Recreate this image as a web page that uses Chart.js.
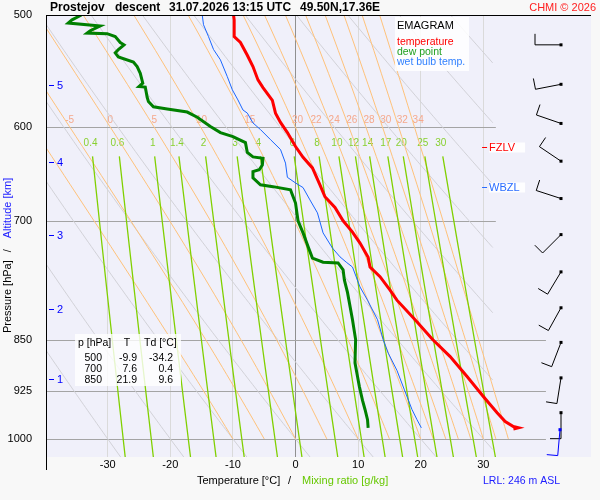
<!DOCTYPE html>
<html>
<head>
<meta charset="utf-8">
<script src="https://cdn.jsdelivr.net/npm/chart.js@4.4.1/dist/chart.umd.min.js"></script>
<style>
  html, body { margin:0; padding:0; background:#f8f8f8; }
  #wrap { position:relative; width:600px; height:500px; }
</style>
</head>
<body>
<div id="wrap"><canvas id="emagram" width="600" height="500"></canvas></div>
<script>
// ===== sounding: pressure [hPa] / temperature [°C]
const tempP = [500, 504, 518, 523, 534, 544, 556, 563, 575, 587, 596, 606, 620, 631, 642, 660, 673, 685, 700, 713, 726, 743, 755, 767, 784, 797, 823, 850, 874, 903, 933, 958, 972, 980, 982, 984];
const tempT = [-9.9, -9.8, -9.8, -8.8, -7.7, -6.8, -6.0, -5.2, -3.7, -3.2, -2.4, -1.3, 0.0, 1.2, 2.7, 3.9, 4.7, 6.3, 7.6, 9.1, 10.3, 11.6, 11.9, 13.5, 15.1, 16.2, 19.1, 21.9, 24.7, 27.4, 30.0, 32.2, 33.5, 34.8, 35.6, 34.8];

const dewP = [500, 504, 506.6, 509, 513, 515, 515.5, 518, 523, 525, 529, 532, 535.5, 540, 544, 550, 559, 562, 562.5, 572, 576, 581, 583, 586, 591, 600, 606, 610, 616, 626, 630.6, 632, 639, 644, 646, 652.5, 660, 662, 665.5, 680, 700, 714, 730, 744, 749, 750, 758.5, 771, 787, 823, 850, 883, 903, 918, 939, 953, 969, 982];
const dewT = [-34.2, -35.7, -36.3, -31.2, -32.8, -33.3, -30.1, -28.8, -28.0, -27.4, -28.3, -28.8, -28.3, -25.9, -25.3, -24.8, -24.4, -25.0, -24.0, -23.7, -23.5, -22.7, -20.5, -17.3, -15.7, -13.6, -12.0, -10.0, -8.0, -7.7, -6.8, -5.2, -5.3, -5.8, -6.8, -6.8, -5.6, -3.6, -0.8, 0.0, 0.4, 1.2, 2.0, 2.7, 4.4, 6.8, 7.6, 7.8, 8.3, 9.1, 9.6, 9.5, 9.9, 10.2, 10.7, 11.1, 11.5, 11.6];

const wetP = [500, 508, 518, 529, 538, 553, 565, 574.5, 584, 587, 596.5, 603, 613, 623, 637, 652, 658, 663, 676.5, 691, 714, 732, 742.5, 749, 755, 780, 797, 823, 850, 869, 894, 923, 953, 969, 982];
const wetT = [-14.9, -14.7, -13.9, -13.1, -12.0, -10.9, -10.1, -9.2, -8.4, -7.7, -6.8, -5.6, -4.0, -2.4, -1.6, -1.3, 0.0, 1.2, 2.3, 3.5, 4.4, 5.9, 7.1, 8.1, 9.1, 10.3, 11.5, 13.1, 14.0, 14.8, 16.2, 17.4, 18.6, 19.4, 20.1];

// table in the lower left
const tableP = [500, 700, 850];
const tableT = [-9.9, 7.6, 21.9];
const tableTd = [-34.2, 0.4, 9.6];

// axes
const xTicks = [-30, -20, -10, 0, 10, 20, 30];
const yTicks = [500, 600, 700, 850, 925, 1000];
const altKm = [1, 2, 3, 4, 5];
const altP = [907, 808, 717, 636, 561];
const fzlvP = 620.5;
const wbzlP = 662;

// diagram line labels
const dryTheta = [-30, -20, -10, 0, 10, 20, 30, 40, 50, 60, 70, 80, 90, 100];
const satThetaW = [-10, -5, 0, 5, 10, 15, 20, 22, 24, 26, 28, 30, 32, 34];
const mixW = [0.4, 0.6, 1, 1.4, 2, 3, 4, 6, 8, 10, 12, 14, 17, 20, 25, 30];

// wind barbs: pressure, direction [deg], speed [kt]
const barbP = [525, 560, 597, 635, 675, 716, 761, 807, 854, 905, 958];
const barbDir = [270, 259, 289, 304, 288, 225, 211, 209, 201, 189, 180];
const barbKt = [10, 10, 10, 10, 10, 10, 10, 10, 10, 10, 10];
const sfcBarb = { p: 985, dir: 185, kt: 10 };

const FONT = "'Liberation Sans', Arial, sans-serif";
const DRY_TMAX = 31.5;

// ===== emagram reference lines, built from the labelled values
const KAPPA = 0.2857;
function dryAdiabat(th){
  const pts = [];
  for (let p = 500; p <= 1030; p += 5){
    const t = (th + 273.15) * Math.pow(p / 1000, KAPPA) - 273.15;
    if (t > DRY_TMAX){
      if (pts.length) pts.push({ x: DRY_TMAX, y: 1000 * Math.pow((DRY_TMAX + 273.15) / (th + 273.15), 1 / KAPPA) });
      break;
    }
    pts.push({ x: t, y: p });
  }
  return pts;
}
function satAdiabat(tw){
  const pts = [];
  let T = tw + 273.15;
  for (let p = 1000; p >= 500; p -= 2){
    if (p % 10 === 0) pts.push({ x: T - 273.15, y: p });
    const tc = T - 273.15;
    const e = 6.112 * Math.exp(17.67 * tc / (tc + 243.5));
    const rs = 0.622 * e / (p - e);
    const L = 2.501e6;
    const dTdp = (287 * T + L * rs) / (p * (1005 + L * L * rs * 0.622 / (287 * T * T)));
    T -= 2 * dTdp;
  }
  return pts;
}
function mixLine(w){
  const pts = [];
  for (let p = 630; p <= 1030; p += 20){
    const e = w / 1000 * p / (0.622 + w / 1000);
    const l = Math.log(e / 6.112);
    pts.push({ x: 243.5 * l / (17.67 - l), y: p });
  }
  return pts;
}

const toPts = (P, V) => P.map((p, i) => ({ x: V[i], y: p }));
function lineSet(data, color, width, order){
  return { data, showLine:true, borderColor:color, borderWidth:width, pointRadius:0, pointHoverRadius:0, fill:false, tension:0, order };
}

const dryLines = dryTheta.map(th => lineSet(dryAdiabat(th), '#d2d2d8', 1, 30));
const satLines = satThetaW.map(tw => lineSet(satAdiabat(tw), '#ffc27a', 1, 20));
const mixLines = mixW.map(w => lineSet(mixLine(w), '#80d000', 1.3, 10));

const datasets = [
  lineSet(toPts(tempP, tempT), '#ff0000', 3, 0),
  lineSet(toPts(dewP, dewT), '#008000', 3, 1),
  lineSet(toPts(wetP, wetT), '#1a66ff', 1, 2),
  ...mixLines, ...satLines, ...dryLines
];

// ===== drawing helpers
function txt(ctx, s, x, y, color, size, align, bold){
  ctx.font = (bold ? 'bold ' : '') + size + 'px ' + FONT;
  ctx.fillStyle = color;
  ctx.textAlign = align || 'left';
  ctx.textBaseline = 'middle';
  ctx.fillText(s, x, y);
}

function drawBarb(ctx, x0, y0, dir, kt, color){
  const a = dir * Math.PI / 180;
  const dx = Math.sin(a), dy = -Math.cos(a);
  const len = 26;
  const ex = x0 + dx * len, ey = y0 + dy * len;
  ctx.strokeStyle = color; ctx.fillStyle = color; ctx.lineWidth = 1;
  ctx.beginPath(); ctx.moveTo(x0, y0); ctx.lineTo(ex, ey);
  let n = Math.floor(kt / 10), half = (kt % 10) >= 5;
  let k = 0;
  for (; k < n; k++){
    const bx = ex - dx * k * 4, by = ey - dy * k * 4;
    ctx.moveTo(bx, by); ctx.lineTo(bx - dy * 11, by + dx * 11);
  }
  if (half){
    const bx = ex - dx * k * 4, by = ey - dy * k * 4;
    ctx.moveTo(bx, by); ctx.lineTo(bx - dy * 6, by + dx * 6);
  }
  ctx.stroke();
  ctx.fillRect(x0 - 1.5, y0 - 1.5, 3, 3);
}

const emagramPlugin = {
  id: 'emagram',
  beforeDraw(chart){
    const { ctx, chartArea: a } = chart;
    ctx.save();
    ctx.fillStyle = '#f8f8f8';
    ctx.fillRect(0, 0, chart.width, chart.height);
    ctx.fillStyle = '#f0f0fa';
    ctx.fillRect(a.left, a.top, a.right - a.left, a.bottom - a.top);
    ctx.restore();
  },
  beforeDatasetsDraw(chart){
    const { ctx, scales:{ x, y } } = chart;
    ctx.save();
    // isobars
    ctx.strokeStyle = '#a4a4a4'; ctx.lineWidth = 1.2;
    yTicks.slice(1).forEach(p => {
      const py = Math.round(y.getPixelForValue(p)) + 0.5;
      ctx.beginPath();
      ctx.moveTo(chart.chartArea.left, py);
      ctx.lineTo(x.getPixelForValue(p < 800 ? 32 : 40), py);
      ctx.stroke();
    });
    // saturated adiabat labels along 600 hPa
    const y600 = y.getPixelForValue(600);
    satThetaW.forEach((tw, i) => {
      const pt = satLines[i].data.find(d => d.y === 590);
      if (!pt) return;
      const px = x.getPixelForValue(pt.x) + 7;
      if (px < chart.chartArea.left + 8) return;
      txt(ctx, String(tw), px, y600 - 6, '#f5a88c', 10, 'center');
    });
    // mixing ratio labels
    mixW.forEach((w, i) => {
      const px = x.getPixelForValue(mixLines[i].data[0].x) - 2;
      txt(ctx, String(w), px, y.getPixelForValue(617), '#88d030', 10, 'center');
    });
    ctx.restore();
  },
  afterDatasetsDraw(chart){
    const { ctx, chartArea: a, scales:{ x, y } } = chart;
    ctx.save();
    // frame: top border and left axis
    ctx.strokeStyle = '#000'; ctx.lineWidth = 1;
    ctx.beginPath();
    ctx.moveTo(a.left, a.top + 0.5); ctx.lineTo(a.right, a.top + 0.5);
    ctx.moveTo(a.left - 0.5, a.top); ctx.lineTo(a.left - 0.5, a.bottom + 13);
    ctx.stroke();

    // altitude ticks
    ctx.strokeStyle = '#0000ff';
    altKm.forEach((km, i) => {
      const py = Math.round(y.getPixelForValue(altP[i])) + 0.5;
      ctx.beginPath(); ctx.moveTo(a.left + 2, py); ctx.lineTo(a.left + 7, py); ctx.stroke();
      txt(ctx, String(km), a.left + 10, py, '#0000ff', 11, 'left');
    });

    // freezing level / wet bulb zero
    [[fzlvP, 'FZLV', '#ff0000'], [wbzlP, 'WBZL', '#2a6cff']].forEach(([p, label, col]) => {
      const py = Math.round(y.getPixelForValue(p)) + 0.5;
      const px = x.getPixelForValue(29.8);
      ctx.fillStyle = 'rgba(255,255,255,0.9)';
      ctx.fillRect(px + 7, py - 5, 36, 10);
      ctx.strokeStyle = col;
      ctx.beginPath(); ctx.moveTo(px, py); ctx.lineTo(px + 5, py); ctx.stroke();
      txt(ctx, label, px + 7, py, col, 11, 'left');
    });

    // legend box
    ctx.fillStyle = 'rgba(255,255,255,0.85)';
    ctx.fillRect(395, 17, 74, 54);
    txt(ctx, 'EMAGRAM', 397, 26, '#000', 11, 'left');
    txt(ctx, 'temperature', 397, 42, '#ff0000', 10.5, 'left');
    txt(ctx, 'dew point', 397, 52, '#20a020', 10.5, 'left');
    txt(ctx, 'wet bulb temp.', 397, 62, '#3080ff', 10.5, 'left');

    // level table
    ctx.fillStyle = 'rgba(255,255,255,0.8)';
    ctx.fillRect(75, 334, 106, 52);
    txt(ctx, 'p [hPa]', 78, 343, '#000', 10.5, 'left');
    txt(ctx, 'T', 127, 343, '#000', 10.5, 'center');
    txt(ctx, 'Td [°C]', 144, 343, '#000', 10.5, 'left');
    tableP.forEach((p, i) => {
      const ry = 358 + i * 11;
      txt(ctx, String(p), 102, ry, '#000', 10.5, 'right');
      txt(ctx, tableT[i].toFixed(1), 137, ry, '#000', 10.5, 'right');
      txt(ctx, tableTd[i].toFixed(1), 173, ry, '#000', 10.5, 'right');
    });

    // wind barbs
    const bx = 561;
    barbP.forEach((p, i) => drawBarb(ctx, bx, y.getPixelForValue(p), barbDir[i], barbKt[i], '#000'));
    drawBarb(ctx, bx - 1, y.getPixelForValue(sfcBarb.p), sfcBarb.dir, sfcBarb.kt, '#0000ff');
    ctx.restore();
  },
  afterDraw(chart){
    const { ctx } = chart;
    ctx.save();
    // title
    txt(ctx, 'Prostejov', 50, 8, '#000', 12, 'left', true);
    txt(ctx, 'descent', 115, 8, '#000', 12, 'left', true);
    txt(ctx, '31.07.2026 13:15 UTC', 169, 8, '#000', 12, 'left', true);
    txt(ctx, '49.50N,17.36E', 300, 8, '#000', 12, 'left', true);
    txt(ctx, 'CHMI © 2026', 596, 8, '#ff2020', 11, 'right');

    // x axis title
    txt(ctx, 'Temperature [°C]', 197, 481, '#000', 11, 'left');
    txt(ctx, '/', 288, 481, '#000', 11, 'left');
    txt(ctx, 'Mixing ratio [g/kg]', 302, 481, '#66c800', 11, 'left');
    txt(ctx, 'LRL: 246 m ASL', 483, 481, '#2020ff', 10.5, 'left');

    // y axis title
    ctx.translate(8, 333);
    ctx.rotate(-Math.PI / 2);
    ctx.font = '11px ' + FONT;
    const w1 = ctx.measureText('Pressure [hPa]').width;
    txt(ctx, 'Pressure [hPa]', 0, 0, '#000', 11, 'left');
    txt(ctx, '/', w1 + 8, 0, '#000', 11, 'left');
    txt(ctx, 'Altitude [km]', w1 + 22, 0, '#2020ff', 11, 'left');
    ctx.restore();
  }
};

new Chart(document.getElementById('emagram'), {
  type: 'scatter',
  data: { datasets },
  options: {
    responsive: false,
    animation: false,
    events: [],
    layout: { padding: { left: 0, right: 9, top: 15, bottom: 0 } },
    plugins: { legend: { display:false }, tooltip: { enabled:false } },
    scales: {
      x: {
        type: 'linear', min: -39.7, max: 47.2, bounds: 'data',
        afterBuildTicks: s => { s.ticks = xTicks.map(v => ({ value: v })); },
        afterFit: s => { s.height = 43; },
        border: { display:false },
        grid: { drawTicks:false, lineWidth:1, color: c => (c.tick && c.tick.value === 0) ? '#909090' : '#dadada' },
        ticks: { autoSkip:false, maxRotation:0, padding:1, color:'#000', font:{ family:FONT, size:11 }, callback: v => String(v) }
      },
      y: {
        type: 'logarithmic', reverse: true, min: 500, max: 1030, bounds: 'data',
        afterBuildTicks: s => { s.ticks = yTicks.map(v => ({ value: v })); },
        afterFit: s => { s.width = 47; },
        border: { display:false },
        grid: { display:false },
        ticks: { autoSkip:false, padding:7, color:'#000', font:{ family:FONT, size:11 }, callback: v => String(v) }
      }
    }
  },
  plugins: [emagramPlugin]
});
</script>
</body>
</html>
